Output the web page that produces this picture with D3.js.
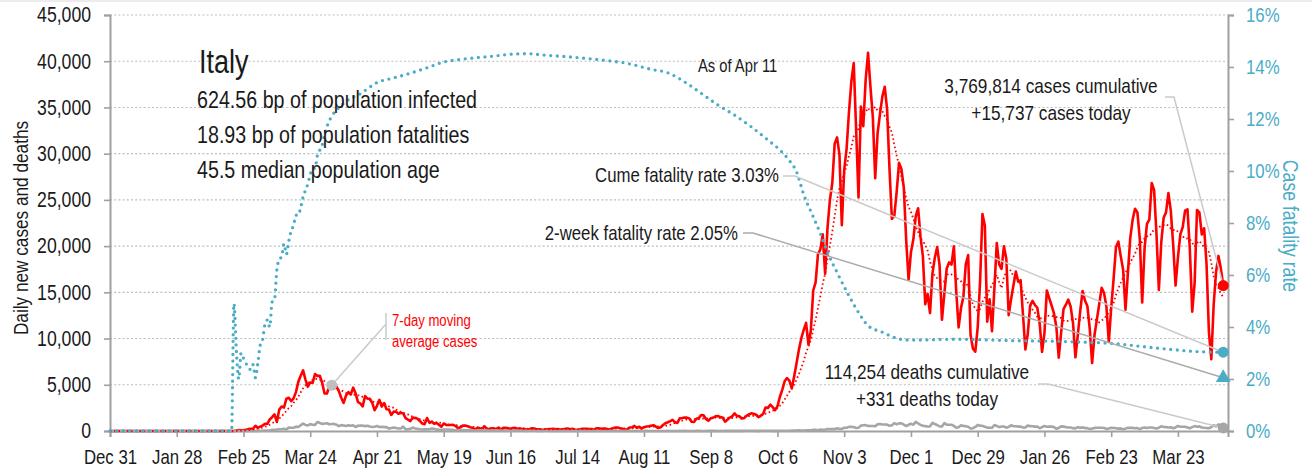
<!DOCTYPE html>
<html>
<head>
<meta charset="utf-8">
<script src="https://cdn.jsdelivr.net/npm/d3@7"></script>
<style>
  html, body { margin: 0; padding: 0; background: #fff; }
  svg text { font-family: "Liberation Sans", Arial, sans-serif; }
</style>
</head>
<body>
<svg id="chart" width="1312" height="471"></svg>
<script>
// ---- Data -------------------------------------------------------------
const seriesStart = "2019-12-31";

// Daily new cases, one value per day from seriesStart (one row per month)
const dailyCases = [
  0,
  0,0,0,0,0,0,0,0,0,0,0,0,0,0,0,0,0,0,0,0,0,0,0,0,0,0,0,0,0,0,2,
  0,0,0,0,0,0,1,0,0,0,0,0,0,0,0,0,0,0,0,0,17,42,93,74,93,131,202,233,240,
  566,342,466,587,769,778,1247,1492,1797,977,2313,2651,2547,3497,3590,3233,3526,4207,5322,5986,6557,5560,4789,5249,5210,6153,5959,5974,5217,4050,4053,
  4782,4668,4585,4805,4316,3599,3039,3836,4204,3951,4694,4092,3153,2972,2667,3786,3493,3491,3047,2256,2729,3370,2646,3021,2357,2324,1739,2091,2086,1872,
  1965,1900,1389,1221,1075,1444,1401,1327,1083,802,744,1402,888,992,789,875,675,451,813,665,642,652,669,531,300,397,584,593,516,416,355,
  178,318,321,177,518,270,197,280,283,202,379,163,346,338,301,210,329,333,251,262,224,218,122,190,296,259,175,174,126,142,
  187,201,223,235,192,208,138,193,229,276,188,234,169,114,162,230,233,249,219,218,129,280,306,252,275,255,170,212,289,386,379,
  295,239,159,190,384,402,552,347,463,259,412,481,523,574,629,479,320,403,642,845,947,1071,1210,953,878,1367,1411,1462,1444,1365,996,
  978,1326,1397,1733,1695,1297,1108,1370,1434,1597,1616,1501,1458,1008,1229,1452,1585,1907,1638,1587,1350,1392,1640,1786,1912,1869,1766,1494,1648,1851,
  2548,2499,2844,2578,2257,2677,3678,4458,5372,5724,5456,4619,5901,7332,8804,10010,10925,11705,9338,10874,15199,16079,19143,19644,21273,17012,21994,24991,26831,31084,31758,
  29907,22253,28244,30550,34505,37809,39811,32616,25271,35098,32961,37978,40902,37255,33979,27354,32191,34283,36176,37242,34767,28337,22930,23232,25853,29003,28352,26323,20648,16377,
  19350,20709,23225,24099,21052,18887,13720,14842,12756,16999,18727,19903,17938,12030,14844,17572,18236,17992,19974,15104,11212,13318,14522,18040,19037,10407,8913,8585,11210,16202,23477,
  22211,11831,14245,10800,15378,20331,18020,17533,19978,18627,12532,14242,15774,17246,16146,16310,12545,8824,10497,13571,14078,13633,13331,11629,8561,10593,15204,14372,13574,12715,11252,
  7925,10630,13189,13659,14218,13442,11641,7970,10404,12956,15146,14111,13532,11068,7351,10386,12074,13762,15479,14931,13452,9630,13314,16424,19886,20499,18916,17455,
  13114,17083,20884,22865,24036,23641,20765,13902,19749,22409,22865,26824,26062,21315,15267,20396,23059,23649,25735,23832,20159,15732,18765,21267,22057,23839,23987,19611,12916,16017,23904,
  23649,21261,21932,18025,10680,7767,13708,17221,18938,17567,15737
];

// Daily deaths, same calendar as dailyCases
const dailyDeaths = [
  0,
  0,0,0,0,0,0,0,0,0,0,0,0,0,0,0,0,0,0,0,0,0,0,0,0,0,0,0,0,0,0,0,
  0,0,0,0,0,0,0,0,0,0,0,0,0,0,0,0,0,0,0,0,1,1,1,4,3,2,5,4,8,
  5,18,27,28,41,49,36,133,97,168,196,189,250,175,368,349,345,475,427,627,793,651,601,743,683,662,969,889,756,812,837,
  727,760,766,681,525,636,604,542,610,570,619,431,566,602,578,525,575,482,433,454,534,437,464,420,415,260,333,382,323,285,
  269,474,174,195,236,369,274,243,194,165,179,172,195,262,242,153,145,99,162,161,156,130,119,50,92,78,117,70,87,111,75,
  60,55,71,88,85,72,53,65,79,71,53,56,78,44,26,34,43,66,47,49,24,23,18,30,34,30,8,22,6,23,
  21,30,15,21,7,8,30,15,12,12,7,9,13,17,20,11,9,13,3,7,15,9,10,5,4,3,5,11,6,9,3,
  5,3,12,6,10,3,3,13,4,4,6,10,6,3,5,4,4,7,7,6,9,3,7,4,4,13,5,9,1,1,4,
  6,10,10,6,7,7,14,10,10,10,6,10,7,14,9,10,10,10,24,15,14,20,19,23,20,23,17,16,24,19,
  24,23,27,18,16,28,31,22,28,29,26,39,41,43,83,55,47,69,73,89,127,136,91,151,128,141,221,205,217,199,297,
  208,233,353,352,445,446,425,331,356,580,623,636,550,544,546,504,731,753,699,699,692,562,630,853,722,822,827,686,541,672,
  785,684,993,814,662,564,528,491,499,887,761,649,484,491,846,680,683,674,553,352,415,628,553,505,459,261,305,445,659,575,555,
  462,364,347,348,649,548,414,483,483,361,448,616,507,522,477,475,377,377,603,524,521,472,492,299,420,541,467,492,477,421,237,
  329,499,476,421,377,385,307,280,422,336,391,316,311,221,258,336,347,353,347,316,232,274,356,318,308,253,280,185,
  255,343,347,339,297,307,207,318,376,332,373,380,317,264,354,502,431,423,386,401,300,386,551,460,460,457,380,297,417,529,467,
  501,376,344,326,296,421,627,487,718,344,331
];

// Cumulative case fatality rate (%), by date
const fatalityRate = [
  ["2019-12-31",0],["2020-02-20",0],["2020-02-21",4.9],["2020-02-22",3.1],["2020-02-23",2.0],
  ["2020-02-24",3.0],["2020-02-25",2.8],["2020-02-26",2.6],["2020-02-27",2.5],["2020-02-28",2.35],
  ["2020-02-29",2.55],["2020-03-01",2.05],["2020-03-02",2.6],["2020-03-03",3.3],["2020-03-04",3.5],
  ["2020-03-05",4.1],["2020-03-06",4.27],["2020-03-07",4.0],["2020-03-08",4.96],["2020-03-09",5.05],
  ["2020-03-10",6.2],["2020-03-11",6.6],["2020-03-12",6.7],["2020-03-13",7.2],["2020-03-14",6.8],
  ["2020-03-15",7.3],["2020-03-16",7.7],["2020-03-17",7.9],["2020-03-18",8.3],["2020-03-19",8.3],
  ["2020-03-20",8.6],["2020-03-21",9.0],["2020-03-22",9.26],["2020-03-23",9.5],["2020-03-24",9.86],
  ["2020-03-25",10.1],["2020-03-26",10.1],["2020-03-27",10.6],["2020-03-28",10.8],["2020-03-29",11.0],
  ["2020-03-30",11.4],["2020-03-31",11.7],["2020-04-07",12.6],["2020-04-14",12.97],["2020-04-21",13.4],
  ["2020-04-28",13.58],["2020-05-05",13.76],["2020-05-12",13.97],["2020-05-19",14.19],["2020-05-26",14.29],
  ["2020-06-02",14.36],["2020-06-09",14.42],["2020-06-16",14.49],["2020-06-23",14.51],["2020-06-30",14.46],
  ["2020-07-13",14.37],["2020-07-27",14.24],["2020-08-04",14.14],["2020-08-14",13.91],["2020-08-21",13.78],
  ["2020-08-28",13.43],["2020-09-04",12.99],["2020-09-11",12.54],["2020-09-18",12.15],["2020-09-25",11.7],
  ["2020-10-02",11.19],["2020-10-07",10.81],["2020-10-11",10.4],["2020-10-14",9.97],["2020-10-17",9.1],
  ["2020-10-21",8.24],["2020-10-24",7.6],["2020-10-27",6.87],["2020-10-31",6.1],["2020-11-05",5.2],
  ["2020-11-09",4.56],["2020-11-13",4.05],["2020-11-19",3.8],["2020-11-24",3.6],["2020-11-29",3.5],
  ["2020-12-06",3.5],["2020-12-13",3.52],["2020-12-20",3.53],["2020-12-27",3.52],["2021-01-03",3.5],
  ["2021-01-10",3.48],["2021-01-17",3.47],["2021-01-24",3.46],["2021-01-31",3.45],["2021-02-07",3.43],
  ["2021-02-14",3.41],["2021-02-21",3.38],["2021-02-28",3.33],["2021-03-07",3.26],["2021-03-14",3.19],
  ["2021-03-21",3.13],["2021-03-28",3.07],["2021-04-04",3.04],["2021-04-11",3.03]
];

const twoWeekFatalityRate = 2.05;
const cumulativeCases = 3769814;
const cumulativeDeaths = 114254;
const movingAverageMarkerDate = "2020-04-02";

const countryName = "Italy";
const countryFacts = [
  "624.56 bp of population infected",
  "18.93 bp of population fatalities",
  "45.5 median population age"
];
const asOfLabel = "As of Apr 11";

const caseTicks = [0, 5000, 10000, 15000, 20000, 25000, 30000, 35000, 40000, 45000];
const rateTicks = [0, 2, 4, 6, 8, 10, 12, 14, 16];
const dateTicks = ["2019-12-31","2020-01-28","2020-02-25","2020-03-24","2020-04-21","2020-05-19",
  "2020-06-16","2020-07-14","2020-08-11","2020-09-08","2020-10-06","2020-11-03","2020-12-01",
  "2020-12-29","2021-01-26","2021-02-23","2021-03-23"];
const domainEnd = "2021-04-13";

// ---- Setup ------------------------------------------------------------
const RED = "#FF0000", BLUE = "#4BACC6", GREY = "#A6A6A6", LEADER = "#CACACA", AXIS = "#A0A0A0";
const NARROW = 0.82;   // horizontal squeeze giving a condensed face
const parse = d3.utcParse("%Y-%m-%d");
const day0 = parse(seriesStart);
const dayAt = i => d3.utcDay.offset(day0, i);

const svg = d3.select("#chart");
const plot = { left: 110, right: 1228, top: 15, bottom: 431 };

const x = d3.scaleUtc().domain([day0, parse(domainEnd)]).range([plot.left, plot.right]);
const y = d3.scaleLinear().domain([0, 45000]).range([plot.bottom, plot.top]);
const yR = d3.scaleLinear().domain([0, 16]).range([plot.bottom, plot.top]);

// condense a text selection around its own anchor point
function condense(sel) {
  sel.each(function () {
    const t = d3.select(this);
    const px = +t.attr("x") || 0, py = +t.attr("y") || 0;
    const prev = t.attr("transform") || "";
    t.attr("x", 0).attr("y", 0)
      .attr("transform", `${prev} translate(${px},${py}) scale(${NARROW},1)`);
  });
}

const caseRows = dailyCases.map((v, i) => ({ date: dayAt(i), value: v }));
const deathRows = dailyDeaths.map((v, i) => ({ date: dayAt(i), value: v }));
const avgRows = dailyCases.map((v, i) => ({
  date: dayAt(i),
  value: d3.mean(dailyCases.slice(Math.max(0, i - 6), i + 1))
}));
const rateRows = fatalityRate.map(([d, v]) => ({ date: parse(d), value: v }));

// thin strip along the top edge
svg.append("rect").attr("x", 0).attr("y", 0).attr("width", 1312).attr("height", 2).attr("fill", "#ECECEC");

// ---- Grid -------------------------------------------------------------
svg.append("g").selectAll("line")
  .data(caseTicks.filter(d => d > 0))
  .join("line")
  .attr("x1", plot.left).attr("x2", plot.right)
  .attr("y1", d => y(d)).attr("y2", d => y(d))
  .attr("stroke", "#BDBDBD").attr("stroke-width", 1.1)
  .attr("stroke-dasharray", "2,2.2");

// ---- Axes -------------------------------------------------------------
function styleAxis(g, color, size) {
  g.select(".domain").attr("stroke", AXIS).attr("stroke-width", 2);
  g.selectAll(".tick line").attr("stroke", AXIS).attr("stroke-width", 1.6);
  g.selectAll(".tick text").attr("fill", color).attr("font-size", size).call(condense);
}

svg.append("g")
  .attr("transform", `translate(${plot.left},0)`)
  .call(d3.axisLeft(y).tickValues(caseTicks).tickFormat(d3.format(",")).tickSizeOuter(0).tickSize(6).tickPadding(13))
  .call(g => styleAxis(g, "#1a1a1a", 21.5));

svg.append("g")
  .attr("transform", `translate(${plot.right},0)`)
  .call(d3.axisRight(yR).tickValues(rateTicks).tickFormat(d => d + "%").tickSizeOuter(0).tickSize(6).tickPadding(12))
  .call(g => styleAxis(g, BLUE, 20.5));

svg.append("g")
  .attr("transform", `translate(0,${plot.bottom})`)
  .call(d3.axisBottom(x).tickValues(dateTicks.map(parse)).tickFormat(d3.utcFormat("%b %-d")).tickSizeOuter(0).tickSize(6).tickPadding(12))
  .call(g => styleAxis(g, "#1a1a1a", 20.5));

// axis titles
svg.append("text")
  .attr("transform", "translate(28,228) rotate(-90)")
  .attr("text-anchor", "middle").attr("font-size", 21).attr("fill", "#1a1a1a")
  .text("Daily new cases and deaths").call(condense);

svg.append("text")
  .attr("transform", "translate(1283,226) rotate(90)")
  .attr("text-anchor", "middle").attr("font-size", 21.5).attr("fill", BLUE)
  .text("Case fatality rate").call(condense);

// ---- Series -----------------------------------------------------------
const lineX = d => x(d.date);
const caseLine = d3.line().x(lineX).y(d => y(d.value));
const rateLine = d3.line().x(lineX).y(d => yR(d.value)).curve(d3.curveMonotoneX);

svg.append("path").datum(caseRows)
  .attr("fill", "none").attr("stroke", RED).attr("stroke-width", 2.6)
  .attr("stroke-linejoin", "round").attr("d", caseLine);

svg.append("path").datum(deathRows)
  .attr("fill", "none").attr("stroke", GREY).attr("stroke-width", 2.6)
  .attr("stroke-linejoin", "round").attr("d", caseLine);

svg.append("path").datum(avgRows)
  .attr("fill", "none").attr("stroke", RED).attr("stroke-width", 1.8)
  .attr("stroke-dasharray", "1.6,2.6").attr("d", caseLine);

svg.append("path").datum(rateRows)
  .attr("fill", "none").attr("stroke", BLUE).attr("stroke-width", 3.3)
  .attr("stroke-linecap", "round").attr("stroke-dasharray", "0,6.6")
  .attr("d", rateLine);

// ---- Callouts ---------------------------------------------------------
const lastCase = caseRows[caseRows.length - 1];
const lastDeath = deathRows[deathRows.length - 1];
const lastRate = rateRows[rateRows.length - 1];
const avgMarker = avgRows.find(d => +d.date === +parse(movingAverageMarkerDate));

const leader = d3.line();
function drawLeader(points, color) {
  svg.append("path").attr("d", leader(points))
    .attr("fill", "none").attr("stroke", color).attr("stroke-width", 1.5);
}

drawLeader([[1165, 97], [1174, 97], [x(lastCase.date), y(lastCase.value)]], LEADER);
drawLeader([[783, 176], [795, 176], [x(lastRate.date), yR(lastRate.value)]], LEADER);
drawLeader([[743, 233], [753, 233], [x(lastRate.date), yR(twoWeekFatalityRate)]], "#ABABAB");
drawLeader([[1038, 384], [1048, 384], [x(lastDeath.date), y(lastDeath.value)]], LEADER);
drawLeader([[386, 313], [386, 340]], LEADER);
drawLeader([[386, 324], [x(avgMarker.date), y(avgMarker.value)]], LEADER);

// end-of-series markers
svg.append("circle").attr("cx", x(avgMarker.date)).attr("cy", y(avgMarker.value)).attr("r", 5.5).attr("fill", "#BFBFBF");
svg.append("circle").attr("cx", x(lastDeath.date)).attr("cy", y(lastDeath.value)).attr("r", 5.5).attr("fill", GREY);
svg.append("path")
  .attr("transform", `translate(${x(lastRate.date)},${yR(twoWeekFatalityRate)})`)
  .attr("d", d3.symbol(d3.symbolTriangle, 95)()).attr("fill", BLUE);
svg.append("circle").attr("cx", x(lastRate.date)).attr("cy", yR(lastRate.value)).attr("r", 5.5).attr("fill", BLUE);
svg.append("circle").attr("cx", x(lastCase.date)).attr("cy", y(lastCase.value)).attr("r", 5.5).attr("fill", RED);

// ---- Text -------------------------------------------------------------
const fmt = d3.format(",");
function label(txt, px, py, size, anchor = "start", color = "#1a1a1a") {
  return svg.append("text").attr("x", px).attr("y", py)
    .attr("font-size", size).attr("text-anchor", anchor).attr("fill", color).text(txt)
    .call(condense);
}

label(countryName, 199, 73, 33);
countryFacts.forEach((t, i) => label(t, 197, 108 + i * 35, 24));
label(asOfLabel, 698, 72, 18);

label(`Cume fatality rate ${lastRate.value.toFixed(2)}%`, 779, 182, 20.5, "end");
label(`2-week fatality rate ${twoWeekFatalityRate.toFixed(2)}%`, 738, 240, 20.5, "end");

label(`${fmt(cumulativeCases)} cases cumulative`, 1051, 93, 21, "middle");
label(`+${fmt(lastCase.value)} cases today`, 1051, 120, 21, "middle");

label(`${fmt(cumulativeDeaths)} deaths cumulative`, 927, 379, 21, "middle");
label(`+${fmt(lastDeath.value)} deaths today`, 927, 406, 21, "middle");

label("7-day moving", 392, 326, 16, "start", RED);
label("average cases", 392, 347, 16, "start", RED);
</script>
</body>
</html>
